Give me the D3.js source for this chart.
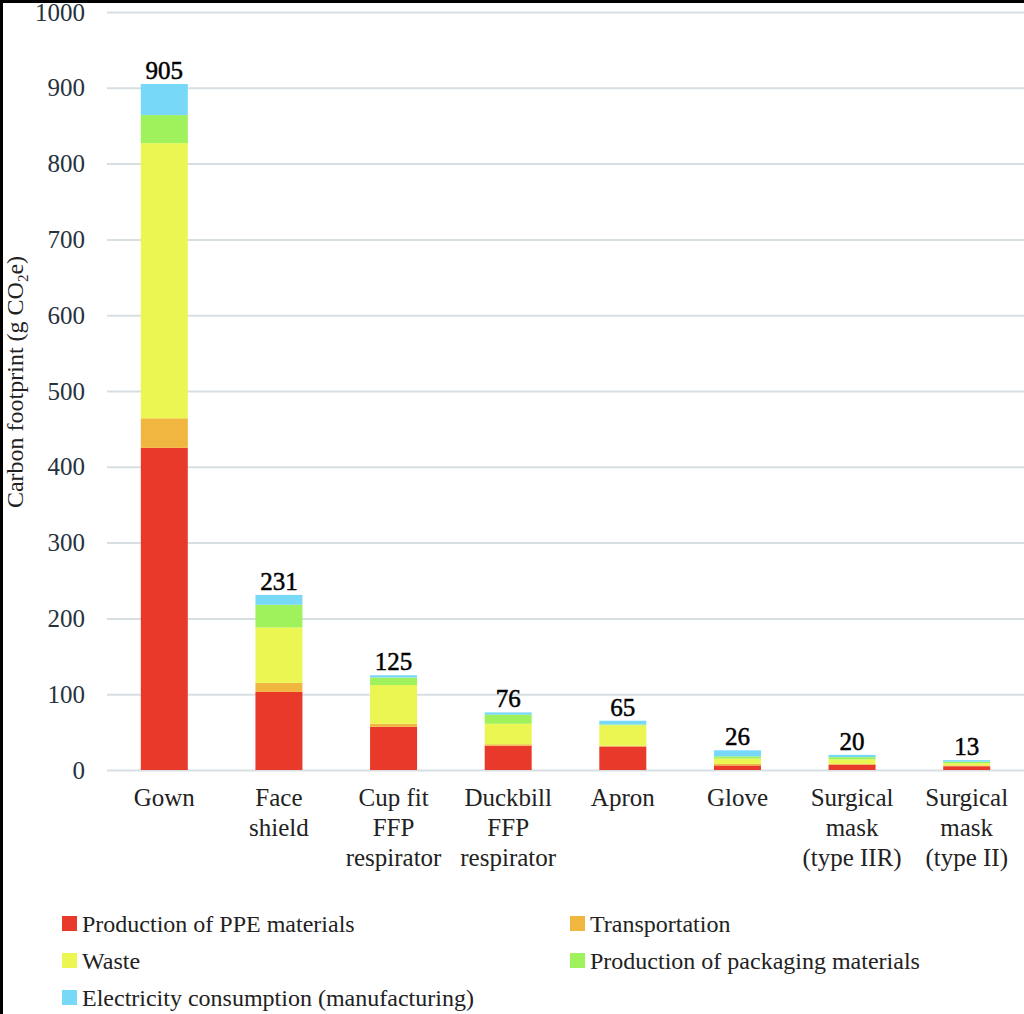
<!DOCTYPE html>
<html>
<head>
<meta charset="utf-8">
<script src="https://cdn.jsdelivr.net/npm/d3@7"></script>
<style>
  html, body { margin: 0; padding: 0; background: #fff; }
</style>
</head>
<body>
<div id="wrapper"></div>
<script>
// data
const categories = ["Gown", "Face\nshield", "Cup fit\nFFP\nrespirator", "Duckbill\nFFP\nrespirator",
  "Apron", "Glove", "Surgical\nmask\n(type IIR)", "Surgical\nmask\n(type II)"]
const seriesNames = ["Production of PPE materials", "Transportation", "Waste",
  "Production of packaging materials", "Electricity consumption (manufacturing)"]
const seriesColors = ["#e9392a", "#f1b640", "#ebf652", "#9ff25b", "#78d8f8"]
const ppeMaterials = [425, 103, 57, 32, 31, 6, 7, 5]
const transportation = [39, 12, 4, 2, 1, 2, 1, 1]
const waste = [363, 73, 51, 27, 27, 7, 6, 3]
const packaging = [37, 30, 10, 12, 1, 3, 3, 2]
const electricity = [41, 13, 3, 3, 5, 8, 3, 2]
const yTicks = [0, 100, 200, 300, 400, 500, 600, 700, 800, 900, 1000]

const seriesValues = [ppeMaterials, transportation, waste, packaging, electricity]
const table = categories.map((c, i) => {
  const row = { category: c }
  seriesNames.forEach((s, j) => row[s] = seriesValues[j][i])
  return row
})

const serif = "Times New Roman, Liberation Serif, Tinos, DejaVu Serif, serif"

const dimensions = {
  width: 1024,
  height: 1014,
  plotLeft: 107,
  plotRight: 1024,
  plotTop: 12,
  plotBottom: 770,
}

const svg = d3.select("#wrapper")
  .append("svg")
    .attr("width", dimensions.width)
    .attr("height", dimensions.height)
    .attr("font-family", serif)

svg.append("rect")
    .attr("width", dimensions.width)
    .attr("height", dimensions.height)
    .attr("fill", "#fff")

// scales
const xScale = d3.scaleBand()
  .domain(categories)
  .range([dimensions.plotLeft, dimensions.plotRight])
  .paddingInner(0.59)
  .paddingOuter(0.295)

const yScale = d3.scaleLinear()
  .domain([0, 1000])
  .range([dimensions.plotBottom, dimensions.plotTop])

// gridlines + tick labels
const yAxis = svg.append("g")
    .attr("transform", `translate(${dimensions.plotLeft},0)`)
    .call(d3.axisLeft(yScale)
      .tickValues(yTicks)
      .tickSize(-(dimensions.plotRight - dimensions.plotLeft))
      .tickPadding(22)
      .tickFormat(d3.format("d")))
    .attr("font-family", serif)
yAxis.select(".domain").remove()
yAxis.selectAll(".tick line")
    .attr("stroke", "#d8dfe3")
    .attr("stroke-width", 2)
yAxis.selectAll(".tick text")
    .attr("fill", "#26323c")
    .attr("font-size", 25)

// stacked bars
const stack = d3.stack().keys(seriesNames)(table)

svg.append("g").selectAll("g")
  .data(stack)
  .join("g")
    .attr("fill", (d, i) => seriesColors[i])
  .selectAll("rect")
  .data(d => d)
  .join("rect")
    .attr("x", d => xScale(d.data.category))
    .attr("width", xScale.bandwidth())
    .attr("y", d => yScale(d[1]))
    .attr("height", d => yScale(d[0]) - yScale(d[1]))

// totals above bars
svg.append("g").selectAll("text")
  .data(table)
  .join("text")
    .attr("x", d => xScale(d.category) + xScale.bandwidth() / 2)
    .attr("y", d => yScale(d3.sum(seriesNames, s => d[s])) - 5)
    .attr("text-anchor", "middle")
    .attr("fill", "#000")
    .attr("stroke", "#000")
    .attr("stroke-width", 0.5)
    .attr("font-size", 25)
    .text(d => d3.sum(seriesNames, s => d[s]))

// category labels
const catLabels = svg.append("g").selectAll("text")
  .data(categories)
  .join("text")
    .attr("x", d => xScale(d) + xScale.bandwidth() / 2)
    .attr("y", 806)
    .attr("text-anchor", "middle")
    .attr("fill", "#222")
    .attr("font-size", 25)
catLabels.selectAll("tspan")
  .data(d => d.split("\n"))
  .join("tspan")
    .attr("x", function() { return this.parentNode.getAttribute("x") })
    .attr("dy", (d, i) => i === 0 ? 0 : 30)
    .text(d => d)

// y axis title
const yTitle = svg.append("text")
    .attr("transform", "translate(23,382) rotate(-90)")
    .attr("text-anchor", "middle")
    .attr("fill", "#222")
    .attr("font-size", 24)
yTitle.append("tspan").text("Carbon footprint (g CO")
yTitle.append("tspan").text("2").attr("font-size", 15).attr("dy", 5)
yTitle.append("tspan").text("e)").attr("dy", -5)

// legend
const legendPos = [[62, 932], [570, 932], [62, 969], [570, 969], [62, 1006]]
const legend = svg.append("g").selectAll("g")
  .data(seriesNames)
  .join("g")
    .attr("transform", (d, i) => `translate(${legendPos[i][0]},${legendPos[i][1]})`)
legend.append("rect")
    .attr("y", -16)
    .attr("width", 15)
    .attr("height", 15)
    .attr("fill", (d, i) => seriesColors[i])
legend.append("text")
    .attr("x", 20)
    .attr("fill", "#222")
    .attr("font-size", 24)
    .text(d => d)

// black frame edges on top and left
svg.append("rect").attr("width", dimensions.width).attr("height", 3).attr("fill", "#000")
svg.append("rect").attr("width", 3).attr("height", dimensions.height).attr("fill", "#000")
</script>
</body>
</html>
